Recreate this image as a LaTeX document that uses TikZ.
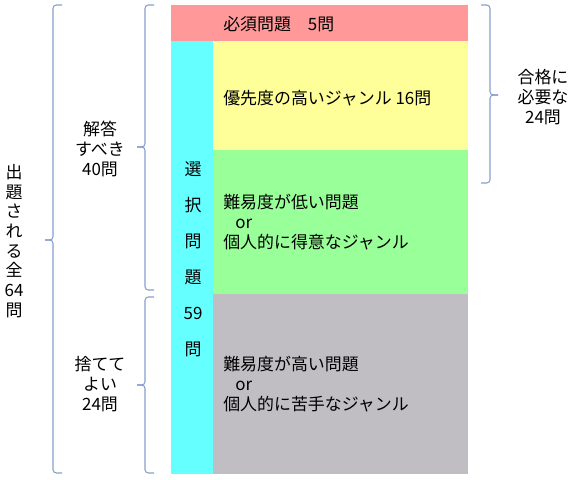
\documentclass[tikz,border=0pt]{standalone}
\usepackage{fontspec}
\setmainfont{Noto Sans CJK JP}
\usepackage{tikz}
\definecolor{bandred}{RGB}{255,153,153}
\definecolor{bandyellow}{RGB}{255,255,153}
\definecolor{bandgreen}{RGB}{153,255,153}
\definecolor{bandgray}{RGB}{192,190,194}
\definecolor{bandcyan}{RGB}{102,255,255}
\definecolor{bracecol}{RGB}{135,158,205}
% brace: x of the line, top, tip, bottom, side (1 = tip left, -1 = tip right)
\def\bracket[#1](#2,#3,#4,#5,#6){%
  \draw[#1] ({#2+9*(#6)},#3) -- (#2,#3) -- (#2,#4) -- ({#2-8*(#6)},#4);
  \draw[#1] ({#2-8*(#6)},#4) -- (#2,#4) -- (#2,#5) -- ({#2+9*(#6)},#5);}

\begin{document}
\begin{tikzpicture}[x=0.75pt, y=-0.75pt,
    txt/.style={inner sep=0pt, font=\fontsize{12.7pt}{15pt}\selectfont},
    brace/.style={line width=0.8pt, color=bracecol, rounded corners=2.5pt}]
			%%%%% START %%%%%
			\useasboundingbox (0, 0) rectangle (577, 479);
			
			\fill[bandred] (171, 5) rectangle (468, 41);
			\fill[bandcyan] (171, 41) rectangle (213, 474);
			\fill[bandyellow] (213, 41) rectangle (468, 150);
			\fill[bandgreen] (213, 150) rectangle (468, 294);
			\fill[bandgray] (213, 294) rectangle (468, 474);
			
			\node[txt, anchor=west] (must) at (223, 24) {必須問題\hspace{1em}5問};
			\node[txt, anchor=west] (prior) at (223, 98) {優先度の高いジャンル 16問};
			\node[txt, anchor=west, align=left] (easy) at (223, 222)
			  {難易度が低い問題\\\hspace*{9pt}or\\個人的に得意なジャンル};
			\node[txt, anchor=west, align=left] (hard) at (223, 384)
			  {難易度が高い問題\\\hspace*{9pt}or\\個人的に苦手なジャンル};
			\node[txt, align=center, font=\fontsize{12.7pt}{27pt}\selectfont] (choice) at (193, 259)
			  {選\\択\\問\\題\\59\\問};
			
			\bracket[brace](53, 5, 240, 473, 1);
			\bracket[brace](145, 5, 147, 290, 1);
			\bracket[brace](145, 297, 385, 473, 1);
			\bracket[brace](490, 5, 95, 183, -1);
			
			\node[txt, align=center, font=\fontsize{12.7pt}{14.8pt}\selectfont] (total) at (14, 241)
			  {出\\題\\さ\\れ\\る\\全\\64\\問};
			\node[txt, align=center] (answer) at (100, 149) {解答\\すべき\\40問};
			\node[txt, align=center] (skip) at (100, 384) {捨てて\\よい\\24問};
			\node[txt, align=center] (pass) at (543, 97) {合格に\\必要な\\24問};
			
			%%%%% END %%%%%
\end{tikzpicture}
\end{document}
